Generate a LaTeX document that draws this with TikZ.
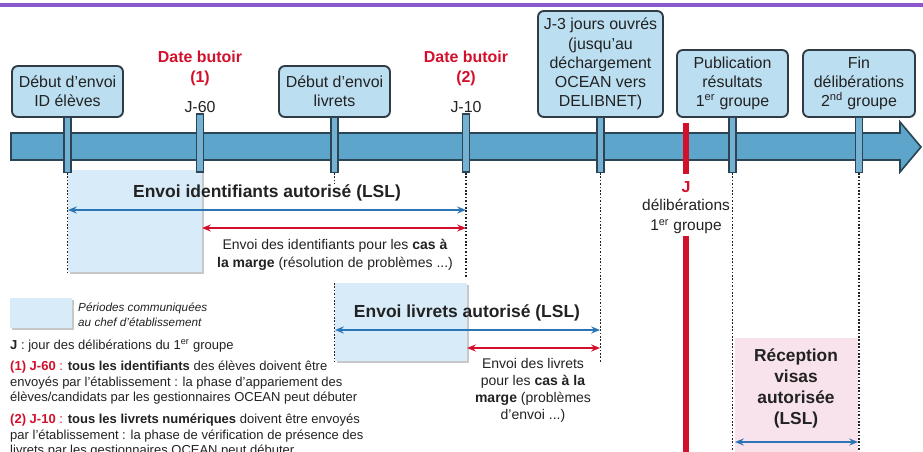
\documentclass[tikz,border=0pt]{standalone}
\usepackage{fontspec}
\setmainfont{Liberation Sans}
\usetikzlibrary{arrows.meta,shadows,calc}
\definecolor{barblue}{HTML}{5DA5CB}
\definecolor{bardark}{HTML}{2B4555}
\definecolor{boxfill}{HTML}{BBDEF1}
\definecolor{boxline}{HTML}{2F3C45}
\definecolor{tickfill}{HTML}{74B1D2}
\definecolor{redJ}{HTML}{D3102B}
\definecolor{arrblue}{HTML}{2B74B6}
\definecolor{shadeblue}{HTML}{D8EBF8}
\definecolor{pinkbox}{HTML}{F8E2EB}
\definecolor{purp}{HTML}{8B58CB}
\definecolor{txt}{HTML}{222222}
\newcommand{\fsz}[2]{\fontsize{#1}{#2}\selectfont}
\begin{document}
\begin{tikzpicture}[x=0.03cm,y=-0.03cm,
  box/.style={draw=boxline, fill=boxfill, line width=1.6pt, rounded corners=5pt, align=center, inner sep=0pt, text=txt, font=\fsz{13.6}{16.4}},
  tickbar/.style={draw=bardark, fill=tickfill, line width=0.9pt},
  dotline/.style={draw=txt, line width=1.5pt, dash pattern=on 1.4pt off 1.5pt},
  shadebox/.style={fill=shadeblue, drop shadow={shadow xshift=1.5pt, shadow yshift=-2pt, opacity=0.3, fill=black!70}},
  blarrow/.style={draw=arrblue, line width=1.6pt, {Stealth[length=7.5pt,width=6pt]}-{Stealth[length=7.5pt,width=6pt]}},
  rdarrow/.style={draw=redJ, line width=1.6pt, {Stealth[length=7.5pt,width=6pt]}-{Stealth[length=7.5pt,width=6pt]}},
  redlbl/.style={text=redJ, font=\bfseries\fsz{13.6}{17}, align=center, inner sep=0pt},
  plain/.style={text=txt, font=\fsz{13.6}{16.6}, align=center, inner sep=0pt},
  title/.style={text=txt, font=\bfseries\fsz{14.9}{18}, align=center, inner sep=0pt},
  small/.style={text=txt, font=\fsz{11.95}{14.5}, align=center, inner sep=0pt},
  legend/.style={text=txt, font=\fsz{11.1}{13}, anchor=base west, inner sep=0pt},
  redline/.style={draw=redJ, line width=5pt}
]
\useasboundingbox (0,0) rectangle (923,452);
\fill[white] (0,0) rectangle (923,452);
% top purple rule
\draw[purp, line width=3.4pt] (0,5) -- (923,5);

% shaded periods
\path[shadebox] (68,170) rectangle (202,272);
\path[shadebox] (335,283) rectangle (467,361);
\path[shadebox] (10,298) rectangle (72,328);
\fill[pinkbox] (735,338) rectangle (858,458);

% top boxes
\node[box, minimum width=111*0.03cm, minimum height=51*0.03cm] (bID) at (67.5,91.5) {Début d'envoi\\ID élèves};
\node[box, minimum width=111*0.03cm, minimum height=51*0.03cm] (bLiv) at (334.5,91.5) {Début d'envoi\\livrets};
\node[box, minimum width=125*0.03cm, minimum height=106*0.03cm] (bJ3) at (600.5,64) {J-3 jours ouvrés\\(jusqu'au\\déchargement\\OCEAN vers\\DELIBNET)};
\node[box, minimum width=111*0.03cm, minimum height=67*0.03cm] (bPub) at (732.5,83.5) {Publication\\résultats\\1\textsuperscript{er} groupe};
\node[box, minimum width=112*0.03cm, minimum height=67*0.03cm] (bFin) at (859,83.5) {Fin\\délibérations\\2\textsuperscript{nd} groupe};

% date butoir labels
\node[redlbl] (db1) at (200,68) {Date butoir\\(1)};
\node[plain] (j60) at (200,107) {J-60};
\node[redlbl] (db2) at (466,68) {Date butoir\\(2)};
\node[plain] (j10) at (466,107) {J-10};

% timeline arrow
\draw[fill=barblue, draw=bardark, line width=1.4pt, line join=miter]
  (11,133) -- (900,133) -- (900,122) -- (921,147) -- (900,172) -- (900,160) -- (11,160) -- cycle;

% ticks
\coordinate (t60) at (200,114);
\coordinate (t10) at (466,114);
\draw[tickbar] ($(bID.south)+(-3.5,0)$) rectangle ($(bID.south)+(3.5,55)$);
\draw[tickbar] ($(bLiv.south)+(-3.5,0)$) rectangle ($(bLiv.south)+(3.5,55)$);
\draw[tickbar] ($(bJ3.south)+(-3.5,0)$) rectangle ($(bJ3.south)+(3.5,55)$);
\draw[tickbar] ($(bPub.south)+(-3.5,0)$) rectangle ($(bPub.south)+(3.5,55)$);
\draw[tickbar] ($(bFin.south)+(-3.5,0)$) rectangle ($(bFin.south)+(3.5,55)$);
\draw[tickbar] ($(t60)+(-3.5,0)$) rectangle ($(t60)+(3.5,58)$);
\draw[tickbar] ($(t10)+(-3.5,0)$) rectangle ($(t10)+(3.5,58)$);

% dotted guides
\coordinate (dA1) at (67.5,173);  \coordinate (dA2) at (67.5,272);
\coordinate (dB1) at (334.5,173); \coordinate (dB2) at (334.5,184);
\coordinate (dB3) at (334.5,283); \coordinate (dB4) at (334.5,362);
\coordinate (dC1) at (466,173);   \coordinate (dC2) at (466,277);
\coordinate (dD1) at (600.5,173); \coordinate (dD2) at (600.5,362);
\coordinate (dE1) at (732.5,173); \coordinate (dE2) at (732.5,452);
\coordinate (dF1) at (859,173);   \coordinate (dF2) at (859,452);
\draw[dotline] (dA1) -- (dA2);
\draw[dotline] (dB1) -- (dB2);
\draw[dotline] (dB3) -- (dB4);
\draw[dotline] (dC1) -- (dC2);
\draw[dotline] (dD1) -- (dD2);
\draw[dotline] (dE1) -- (dE2);
\draw[dotline] (dF1) -- (dF2);

% red J line
\coordinate (r1) at (686,123); \coordinate (r2) at (686,174);
\coordinate (r3) at (686,236); \coordinate (r4) at (686,452);
\draw[redline] (r1) -- (r2);
\draw[redline] (r3) -- (r4);
\node[redlbl] (Jl) at (686,187) {J};
\node[plain, font=\fsz{13.2}{16.6}] (Jd) at (686,216.5) {délibérations\\1\textsuperscript{er} groupe};

% identifiants period
\coordinate (a1l) at (68,210);  \coordinate (a1r) at (466,210);
\coordinate (a2l) at (202,228); \coordinate (a2r) at (466,228);
\node[title] (tId) at (267,193) {Envoi identifiants autorisé (LSL)};
\draw[blarrow] (a1l) -- (a1r);
\draw[rdarrow] (a2l) -- (a2r);
\node[small, font=\fsz{11.95}{15.2}] (mId) at (335,254.5) {Envoi des identifiants pour les \textbf{cas à}\\\textbf{la marge} (résolution de problèmes ...)};

% livrets period
\coordinate (b1l) at (335,330); \coordinate (b1r) at (600,330);
\coordinate (b2l) at (467,348); \coordinate (b2r) at (600,348);
\node[title] (tLiv) at (467,313) {Envoi livrets autorisé (LSL)};
\draw[blarrow] (b1l) -- (b1r);
\draw[rdarrow] (b2l) -- (b2r);
\node[small, font=\fsz{11.95}{14.3}] (mLiv) at (533,390.5) {Envoi des livrets\\pour les \textbf{cas à la}\\\textbf{marge} (problèmes\\d'envoi ...)};

% visas period
\node[title, font=\bfseries\fsz{14.8}{17.9}] (tVis) at (796,388.5) {Réception\\visas\\autorisée\\(LSL)};
\coordinate (c1l) at (735,442); \coordinate (c1r) at (858,442);
\draw[blarrow] (c1l) -- (c1r);

% legend
\node[legend, font=\itshape\fsz{10}{12}] (lg1) at (78,311) {Périodes communiquées};
\node[legend, font=\itshape\fsz{10}{12}] (lg2) at (78,326) {au chef d'établissement};
\node[legend] (l1) at (10,349) {\textbf{J} : jour des délibérations du 1\textsuperscript{er} groupe};
\node[legend] (l2) at (10,370) {{\color{redJ}\textbf{(1) J-60} :} \textbf{tous les identifiants} des élèves doivent être};
\node[legend] (l3) at (10,386) {envoyés par l'établissement : la phase d'appariement des};
\node[legend] (l4) at (10,401) {élèves/candidats par les gestionnaires OCEAN peut débuter};
\node[legend] (l5) at (10,423) {{\color{redJ}\textbf{(2) J-10} :} \textbf{tous les livrets numériques} doivent être envoyés};
\node[legend] (l6) at (10,439) {par l'établissement : la phase de vérification de présence des};
\node[legend] (l7) at (10,454) {livrets par les gestionnaires OCEAN peut débuter};
\end{tikzpicture}
\end{document}
